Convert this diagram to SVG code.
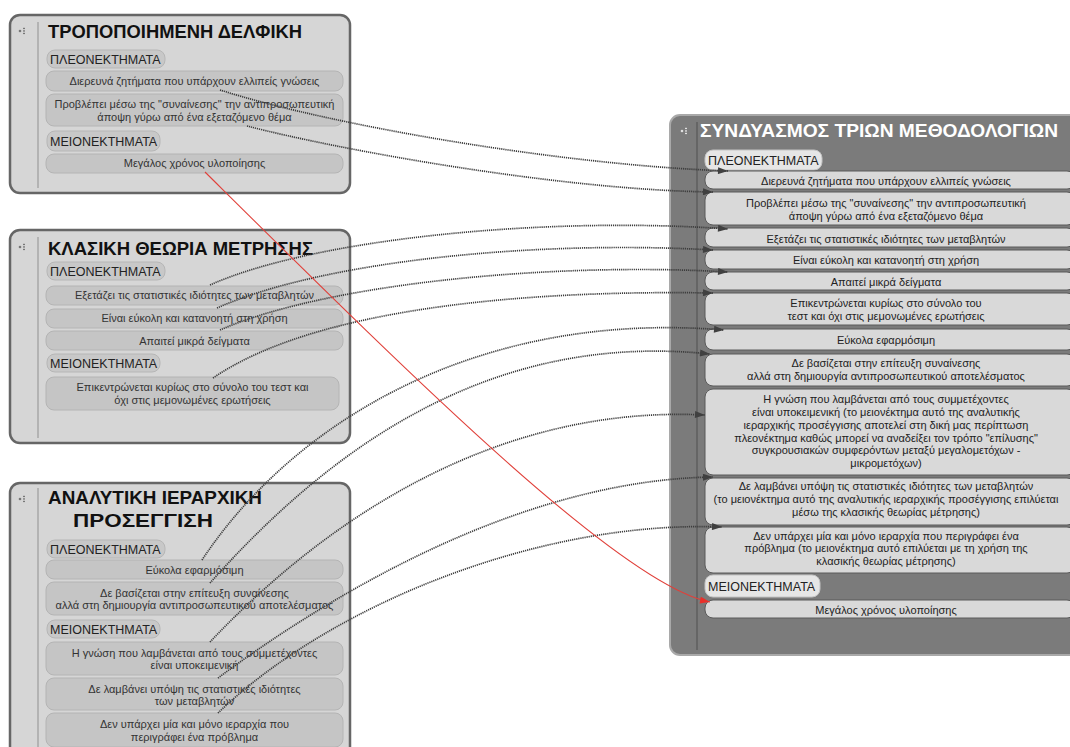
<svg xmlns="http://www.w3.org/2000/svg" width="1070" height="747" viewBox="0 0 1070 747">
  <defs>
    <style>
      text { font-family: "Liberation Sans", Arial, sans-serif; }
      .box { fill: #d6d6d6; stroke: #666666; stroke-width: 2.5; }
      .boxR { fill: #7b7b7b; stroke: #a9a9a9; stroke-width: 2; }
      .div { stroke: #9c9c9c; stroke-width: 1.2; }
      .divR { stroke: #5e5e5e; stroke-width: 1.5; }
      .title { font-size: 18.5px; font-weight: bold; fill: #111; }
      .titleR { font-size: 19px; font-weight: bold; fill: #ffffff; }
      .pill { fill: #c8c8c8; stroke: #b6b6b6; stroke-width: 1; }
      .pillR { fill: #e6e6e6; stroke: #c4c4c4; stroke-width: 1; }
      .ptxt { font-size: 12.5px; fill: #222; }
      .item { fill: #c5c5c5; stroke: #b4b4b4; stroke-width: 1; }
      .itemR { fill: #d9d9d9; stroke: #5a5a5a; stroke-width: 1; }
      .itxt { font-size: 11px; fill: #333; text-anchor: middle; }
      .itxtR { font-size: 11px; fill: #222; text-anchor: middle; }
      .ico { fill: #777; }
      .icoR { fill: #e0e0e0; }
      .link { fill: none; stroke: #3c3c3c; stroke-width: 1.7; stroke-dasharray: 1.2 0.9; }
      .linkRed { fill: none; stroke: #e0403a; stroke-width: 1.1; }
    </style>
    <marker id="arrow" viewBox="0 0 10 7" refX="10" refY="3.5" markerWidth="11" markerHeight="7" markerUnits="userSpaceOnUse" orient="auto">
      <path d="M0,0 L10,3.5 L0,7 z" fill="#404040"/>
    </marker>
    <marker id="arrowRed" viewBox="0 0 10 7" refX="10" refY="3.5" markerWidth="11" markerHeight="7" markerUnits="userSpaceOnUse" orient="auto">
      <path d="M0,0 L10,3.5 L0,7 z" fill="#e8302a"/>
    </marker>
    <g id="icon">
      <circle cx="0" cy="0" r="1.3"/>
      <rect x="3" y="-3.2" width="2" height="1.3"/>
      <rect x="3" y="-0.7" width="2" height="1.3"/>
      <rect x="3" y="1.8" width="2" height="1.3"/>
    </g>
  </defs>

  <rect width="1070" height="747" fill="#ffffff"/>

  <!-- Τροποποιημένη Δελφική -->
  <g id="node-delphi">
    <rect class="box" x="10" y="15" width="340" height="178" rx="10"/>
    <line class="div" x1="38" y1="22" x2="38" y2="188"/>
    <use href="#icon" class="ico" x="20" y="31"/>
    <text class="title" x="48" y="38" textLength="254" lengthAdjust="spacingAndGlyphs">ΤΡΟΠΟΠΟΙΗΜΕΝΗ ΔΕΛΦΙΚΗ</text>
    <rect class="pill" x="47" y="50" width="118" height="18" rx="8"/>
    <text class="ptxt" x="50" y="64">ΠΛΕΟΝΕΚΤΗΜΑΤΑ</text>
    <rect class="item" x="46" y="71" width="297" height="20" rx="8"/>
    <text class="itxt" x="194.5" y="85">Διερευνά ζητήματα που υπάρχουν ελλιπείς γνώσεις</text>
    <rect class="item" x="46" y="94" width="297" height="32" rx="8"/>
    <text class="itxt" x="194.5" y="108">Προβλέπει μέσω της "συναίνεσης" την αντιπροσωπευτική</text>
    <text class="itxt" x="194.5" y="121">άποψη γύρω από ένα εξεταζόμενο θέμα</text>
    <rect class="pill" x="47" y="131" width="113" height="20" rx="8"/>
    <text class="ptxt" x="50" y="146">ΜΕΙΟΝΕΚΤΗΜΑΤΑ</text>
    <rect class="item" x="46" y="154" width="297" height="19" rx="8"/>
    <text class="itxt" x="194.5" y="167">Μεγάλος χρόνος υλοποίησης</text>
  </g>

  <!-- Κλασική θεωρία μέτρησης -->
  <g id="node-ctt">
    <rect class="box" x="10" y="230" width="340" height="213" rx="10"/>
    <line class="div" x1="38" y1="237" x2="38" y2="438"/>
    <use href="#icon" class="ico" x="20" y="247"/>
    <text class="title" x="48" y="255" textLength="265" lengthAdjust="spacingAndGlyphs">ΚΛΑΣΙΚΗ ΘΕΩΡΙΑ ΜΕΤΡΗΣΗΣ</text>
    <rect class="pill" x="47" y="262" width="118" height="18" rx="8"/>
    <text class="ptxt" x="50" y="276">ΠΛΕΟΝΕΚΤΗΜΑΤΑ</text>
    <rect class="item" x="46" y="286" width="297" height="19" rx="8"/>
    <text class="itxt" x="194.5" y="299">Εξετάζει τις στατιστικές ιδιότητες των μεταβλητών</text>
    <rect class="item" x="46" y="309" width="297" height="19" rx="8"/>
    <text class="itxt" x="194.5" y="322">Είναι εύκολη και κατανοητή στη χρήση</text>
    <rect class="item" x="46" y="331" width="297" height="19" rx="8"/>
    <text class="itxt" x="194.5" y="345">Απαιτεί μικρά δείγματα</text>
    <rect class="pill" x="47" y="354" width="113" height="18" rx="8"/>
    <text class="ptxt" x="50" y="368">ΜΕΙΟΝΕΚΤΗΜΑΤΑ</text>
    <rect class="item" x="46" y="377" width="293" height="33" rx="8"/>
    <text class="itxt" x="192.5" y="391">Επικεντρώνεται κυρίως στο σύνολο του τεστ και</text>
    <text class="itxt" x="192.5" y="404">όχι στις μεμονωμένες ερωτήσεις</text>
  </g>

  <!-- Αναλυτική ιεραρχική προσέγγιση -->
  <g id="node-ahp">
    <rect class="box" x="10" y="483" width="340" height="275" rx="10"/>
    <line class="div" x1="38" y1="488" x2="38" y2="747"/>
    <use href="#icon" class="ico" x="20" y="499"/>
    <text class="title" x="48" y="504" textLength="214" lengthAdjust="spacingAndGlyphs">ΑΝΑΛΥΤΙΚΗ ΙΕΡΑΡΧΙΚΗ</text>
    <text class="title" x="73" y="527" textLength="140" lengthAdjust="spacingAndGlyphs">ΠΡΟΣΕΓΓΙΣΗ</text>
    <rect class="pill" x="47" y="540" width="118" height="18" rx="8"/>
    <text class="ptxt" x="50" y="554">ΠΛΕΟΝΕΚΤΗΜΑΤΑ</text>
    <rect class="item" x="46" y="560" width="297" height="19" rx="8"/>
    <text class="itxt" x="194.5" y="574">Εύκολα εφαρμόσιμη</text>
    <rect class="item" x="46" y="582" width="297" height="33" rx="8"/>
    <text class="itxt" x="194.5" y="597">Δε βασίζεται στην επίτευξη συναίνεσης</text>
    <text class="itxt" x="194.5" y="609">αλλά στη δημιουργία αντιπροσωπευτικού αποτελέσματος</text>
    <rect class="pill" x="47" y="620" width="113" height="18" rx="8"/>
    <text class="ptxt" x="50" y="634">ΜΕΙΟΝΕΚΤΗΜΑΤΑ</text>
    <rect class="item" x="46" y="642" width="297" height="33" rx="8"/>
    <text class="itxt" x="194.5" y="657">Η γνώση που λαμβάνεται από τους συμμετέχοντες</text>
    <text class="itxt" x="194.5" y="669">είναι υποκειμενική</text>
    <rect class="item" x="46" y="678" width="297" height="32" rx="8"/>
    <text class="itxt" x="194.5" y="693">Δε λαμβάνει υπόψη τις στατιστικές ιδιότητες</text>
    <text class="itxt" x="194.5" y="705">των μεταβλητών</text>
    <rect class="item" x="46" y="713" width="297" height="34" rx="8"/>
    <text class="itxt" x="194.5" y="728">Δεν υπάρχει μία και μόνο ιεραρχία που</text>
    <text class="itxt" x="194.5" y="741">περιγράφει ένα πρόβλημα</text>
  </g>

  <!-- Συνδυασμός τριών μεθοδολογιών -->
  <g id="node-combined">
    <rect class="boxR" x="670" y="115" width="410" height="540" rx="10"/>
    <line class="divR" x1="697" y1="122" x2="697" y2="650"/>
    <use href="#icon" class="icoR" x="682" y="131"/>
    <text class="titleR" x="700" y="137" textLength="358" lengthAdjust="spacingAndGlyphs">ΣΥΝΔΥΑΣΜΟΣ ΤΡΙΩΝ ΜΕΘΟΔΟΛΟΓΙΩΝ</text>
    <rect class="pillR" x="705" y="150" width="117" height="20" rx="8"/>
    <text class="ptxt" x="708" y="165">ΠΛΕΟΝΕΚΤΗΜΑΤΑ</text>
    <rect class="itemR" x="705" y="171" width="370" height="18" rx="8"/>
    <text class="itxtR" x="886" y="185">Διερευνά ζητήματα που υπάρχουν ελλιπείς γνώσεις</text>
    <rect class="itemR" x="705" y="192" width="370" height="33" rx="8"/>
    <text class="itxtR" x="886" y="207">Προβλέπει μέσω της "συναίνεσης" την αντιπροσωπευτική</text>
    <text class="itxtR" x="886" y="220">άποψη γύρω από ένα εξεταζόμενο θέμα</text>
    <rect class="itemR" x="705" y="228" width="370" height="19" rx="8"/>
    <text class="itxtR" x="886" y="243">Εξετάζει τις στατιστικές ιδιότητες των μεταβλητών</text>
    <rect class="itemR" x="705" y="250" width="370" height="19" rx="8"/>
    <text class="itxtR" x="886" y="264">Είναι εύκολη και κατανοητή στη χρήση</text>
    <rect class="itemR" x="705" y="272" width="370" height="18" rx="8"/>
    <text class="itxtR" x="886" y="286">Απαιτεί μικρά δείγματα</text>
    <rect class="itemR" x="705" y="293" width="370" height="32" rx="8"/>
    <text class="itxtR" x="886" y="307">Επικεντρώνεται κυρίως στο σύνολο του</text>
    <text class="itxtR" x="886" y="320">τεστ και όχι στις μεμονωμένες ερωτήσεις</text>
    <rect class="itemR" x="705" y="329" width="370" height="21" rx="8"/>
    <text class="itxtR" x="886" y="344">Εύκολα εφαρμόσιμη</text>
    <rect class="itemR" x="705" y="354" width="370" height="32" rx="8"/>
    <text class="itxtR" x="886" y="367">Δε βασίζεται στην επίτευξη συναίνεσης</text>
    <text class="itxtR" x="886" y="380">αλλά στη δημιουργία αντιπροσωπευτικού αποτελέσματος</text>
    <rect class="itemR" x="705" y="389" width="370" height="86" rx="8"/>
    <text class="itxtR" x="886" y="403">Η γνώση που λαμβάνεται από τους συμμετέχοντες</text>
    <text class="itxtR" x="886" y="416">είναι υποκειμενική (το μειονέκτημα αυτό της αναλυτικής</text>
    <text class="itxtR" x="886" y="429">ιεραρχικής προσέγγισης αποτελεί στη δική μας περίπτωση</text>
    <text class="itxtR" x="886" y="442">πλεονέκτημα καθώς μπορεί να αναδείξει τον τρόπο "επίλυσης"</text>
    <text class="itxtR" x="886" y="454">συγκρουσιακών συμφερόντων μεταξύ μεγαλομετόχων -</text>
    <text class="itxtR" x="886" y="467">μικρομετόχων)</text>
    <rect class="itemR" x="705" y="478" width="370" height="47" rx="8"/>
    <text class="itxtR" x="886" y="490">Δε λαμβάνει υπόψη τις στατιστικές ιδιότητες των μεταβλητών</text>
    <text class="itxtR" x="886" y="503">(το μειονέκτημα αυτό της αναλυτικής ιεραρχικής προσέγγισης επιλύεται</text>
    <text class="itxtR" x="886" y="516">μέσω της κλασικής θεωρίας μέτρησης)</text>
    <rect class="itemR" x="705" y="527" width="370" height="46" rx="8"/>
    <text class="itxtR" x="886" y="540">Δεν υπάρχει μία και μόνο ιεραρχία που περιγράφει ένα</text>
    <text class="itxtR" x="886" y="552">πρόβλημα (το μειονέκτημα αυτό επιλύεται με τη χρήση της</text>
    <text class="itxtR" x="886" y="565">κλασικής θεωρίας μέτρησης)</text>
    <rect class="pillR" x="705" y="575" width="115" height="22" rx="8"/>
    <text class="ptxt" x="708" y="591">ΜΕΙΟΝΕΚΤΗΜΑΤΑ</text>
    <rect class="itemR" x="705" y="600" width="370" height="18" rx="8"/>
    <text class="itxtR" x="886" y="614">Μεγάλος χρόνος υλοποίησης</text>
  </g>

  <!-- connectors -->
  <g id="connectors">
    <path class="link" marker-end="url(#arrow)" d="M220,90 C330,125 560,165 728,171"/>
    <path class="link" marker-end="url(#arrow)" d="M247,126 C340,150 560,190 713,192"/>
    <path class="link" marker-end="url(#arrow)" d="M210,285 C315,238 550,216 728,229"/>
    <path class="link" marker-end="url(#arrow)" d="M217,308 C325,260 540,240 713,250"/>
    <path class="link" marker-end="url(#arrow)" d="M220,330 C330,282 560,262 728,272"/>
    <path class="link" marker-end="url(#arrow)" d="M213,378 C320,305 540,290 713,293"/>
    <path class="link" marker-end="url(#arrow)" d="M202,560 C295,420 480,310 724,330"/>
    <path class="link" marker-end="url(#arrow)" d="M210,583 C320,460 480,330 710,354"/>
    <path class="link" marker-end="url(#arrow)" d="M210,642 C330,515 500,405 705,415"/>
    <path class="link" marker-end="url(#arrow)" d="M218,678 C330,595 520,480 713,477"/>
    <path class="link" marker-end="url(#arrow)" d="M218,713 C330,605 540,520 722,527"/>
    <path class="linkRed" marker-end="url(#arrowRed)" d="M205,172 C400,365 620,585 710,602"/>
  </g>
</svg>
